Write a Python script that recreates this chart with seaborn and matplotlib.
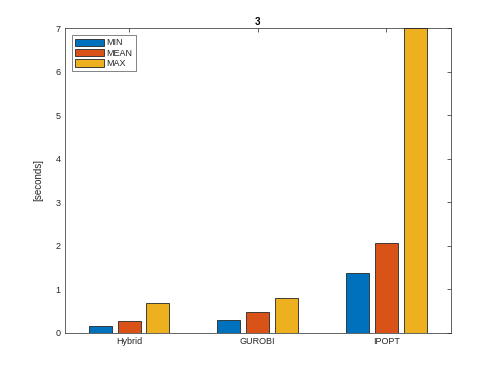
import matplotlib
matplotlib.use("Agg")
import matplotlib.pyplot as plt
import seaborn as sns
import pandas as pd

solvers = ["Hybrid", "GUROBI", "IPOPT"]
stats = ["MIN", "MEAN", "MAX"]
min_vals = [0.16, 0.29, 1.38]
mean_vals = [0.27, 0.48, 2.07]
max_vals = [0.69, 0.79, 7.0]
colors = ["#0072BD", "#D95319", "#EDB120"]
title = "3"
ylabel = "[seconds]"

rows = []
for s, a, b, c in zip(solvers, min_vals, mean_vals, max_vals):
    rows.append((s, "MIN", a))
    rows.append((s, "MEAN", b))
    rows.append((s, "MAX", c))
df = pd.DataFrame(rows, columns=["solver", "stat", "value"])

sns.set_theme(style="white")
plt.rcParams["font.family"] = ["Liberation Sans", "DejaVu Sans"]

fig = plt.figure(figsize=(4.98, 3.74), dpi=100)
ax = fig.add_axes([0.13, 0.11, 0.775, 0.815])

sns.barplot(data=df, x="solver", y="value", hue="stat", order=solvers,
            hue_order=stats, palette=colors, width=0.67, gap=0.2,
            edgecolor="#262626", linewidth=0.6, saturation=1, ax=ax,
            errorbar=None)

ax.set_xlim(-0.5, 2.5)
ax.set_ylim(0, 7)
ax.set_yticks(range(0, 8))
ax.set_xlabel("")
ax.set_ylabel(ylabel, fontsize=7, color="#262626", labelpad=9)
ax.set_title(title, fontsize=7, fontweight="bold", color="black", pad=2.5)

axc = "#262626"
for sp in ax.spines.values():
    sp.set_visible(True)
    sp.set_color(axc)
    sp.set_linewidth(0.5)
ax.tick_params(axis="both", direction="in", length=3, width=0.5, color=axc,
               labelsize=6.5, labelcolor=axc, top=True, right=True, pad=3)

leg = ax.legend(loc="upper left", fontsize=6.5, frameon=True, fancybox=False,
                edgecolor=axc, handlelength=3.2, handleheight=0.9,
                borderpad=0.35, labelspacing=0.15, handletextpad=0.3,
                borderaxespad=0.8)
leg.get_frame().set_linewidth(0.5)

fig.savefig("out.png", dpi=100)
